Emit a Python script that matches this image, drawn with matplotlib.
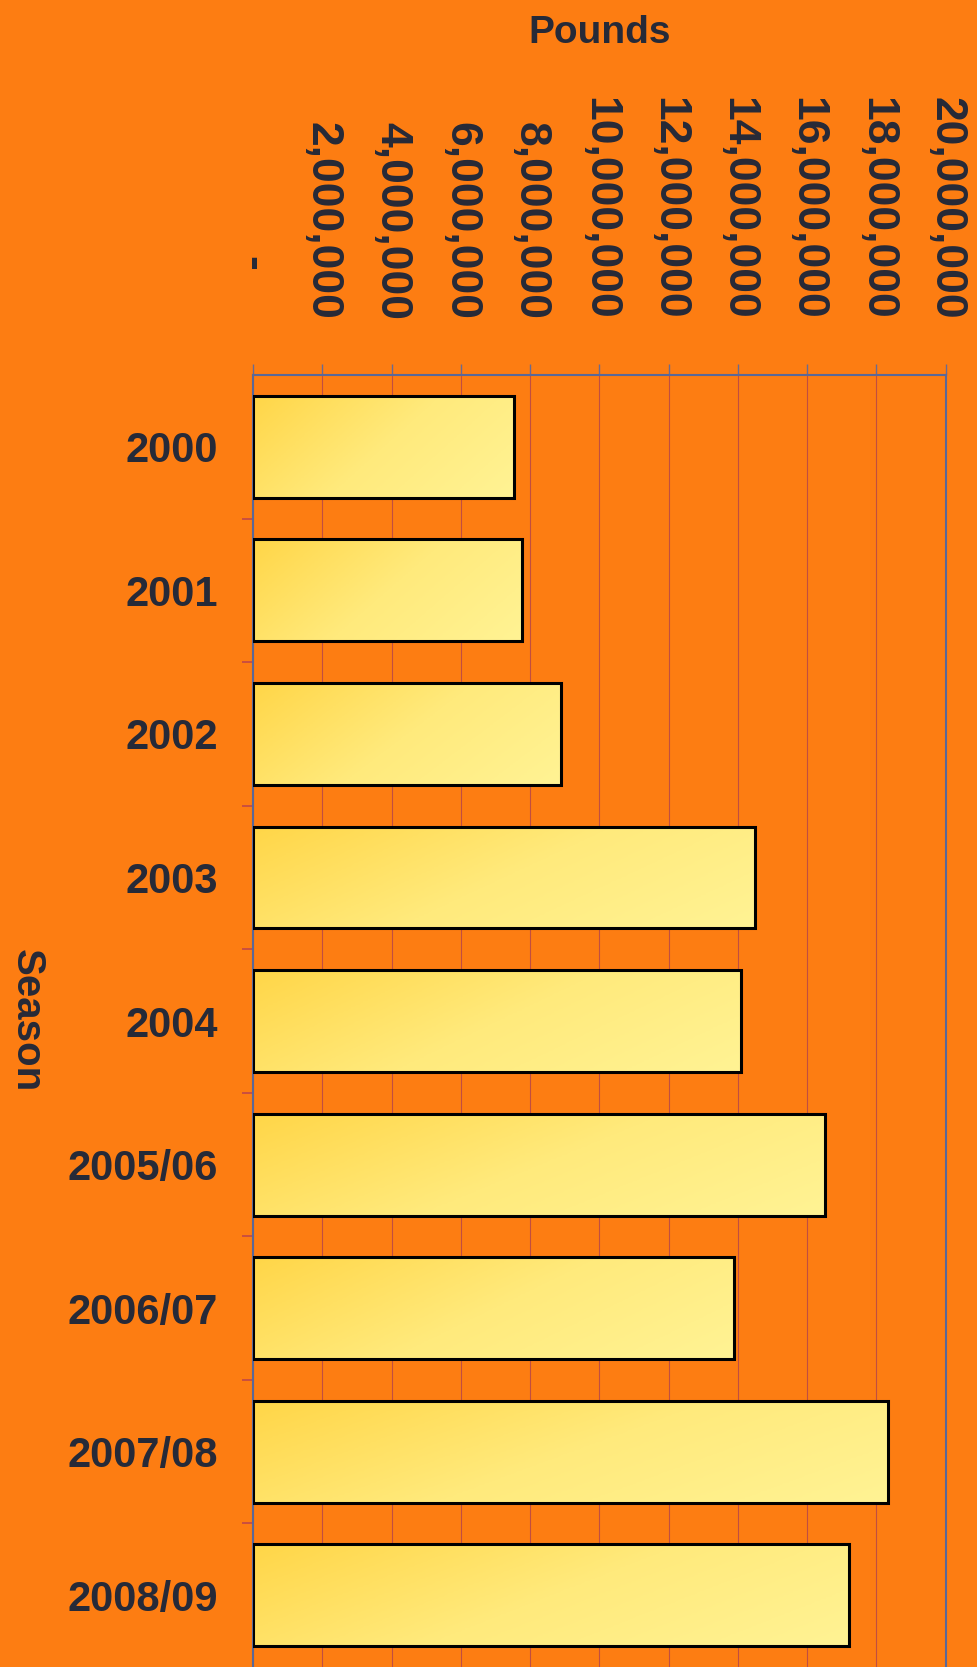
import matplotlib.pyplot as plt
import numpy as np
from matplotlib.ticker import FuncFormatter, MultipleLocator

plt.rcParams['font.family'] = ['Liberation Sans', 'DejaVu Sans']

seasons = ["2000", "2001", "2002", "2003", "2004", "2005/06", "2006/07", "2007/08", "2008/09"]
pounds = [7530000, 7770000, 8880000, 14500000, 14100000, 16500000, 13900000, 18320000, 17220000]

BG = "#fd7d12"
TXT = "#262a38"

fig = plt.figure(figsize=(9.77, 16.67), dpi=100, facecolor=BG)
ax = fig.add_axes([0.259, 0.0, 0.709, 0.775], facecolor=BG)

ypos = np.arange(len(seasons))
bars = ax.barh(ypos, pounds, height=0.71, color="none", edgecolor="black", linewidth=2.2, zorder=3)

# gold-to-pale-yellow gradient inside each bar
gx, gy = np.meshgrid(np.linspace(0, 1, 200), np.linspace(0, 1, 50))
grad = 0.7 * gx + 0.3 * gy
cmap = plt.matplotlib.colors.LinearSegmentedColormap.from_list("g", ["#ffd648", "#ffea7c", "#fff394"])
for b in bars:
    x0, y0, w, h = b.get_x(), b.get_y(), b.get_width(), b.get_height()
    im = ax.imshow(grad, cmap=cmap, extent=[x0, x0 + w, y0 + h, y0], aspect="auto", zorder=2)
    im.set_clip_path(b)

ax.set_xlim(0, 20000000)
ax.set_ylim(len(seasons) - 0.5, -0.5)
ax.xaxis.set_major_locator(MultipleLocator(2000000))
ax.xaxis.set_major_formatter(FuncFormatter(lambda v, p: "-    " if v == 0 else f"{v:,.0f}"))
ax.xaxis.tick_top()
ax.xaxis.set_label_position("top")
ax.tick_params(axis="x", which="major", direction="out", length=8, width=1, color="#6a6a90",
               pad=32, labelsize=32, labelcolor=TXT, labelrotation=270)
for lab in ax.get_xticklabels():
    lab.set_fontweight("bold")
    lab.set_va("bottom")

ax.set_yticks(ypos)
ax.set_yticklabels(seasons, fontsize=30, fontweight="bold", color=TXT)
ax.set_yticks(ypos[:-1] + 0.5, minor=True)
ax.tick_params(axis="y", which="major", length=0, pad=25)
ax.tick_params(axis="y", which="minor", length=8, width=1.2, color="#c04848", direction="out")

ax.grid(axis="x", color="#9a3060", linewidth=0.8, alpha=0.6, zorder=1)
ax.set_axisbelow(True)

for s in ["top", "left", "right"]:
    ax.spines[s].set_color("#5a6898")
    ax.spines[s].set_linewidth(1.5)
ax.spines["bottom"].set_visible(False)

ax.set_xlabel("Pounds", fontsize=28, fontweight="bold", color=TXT)
ax.xaxis.set_label_coords(0.5, 1.257)
ax.set_ylabel("Season", fontsize=29, fontweight="bold", color=TXT, rotation=270, va="center")
ax.yaxis.set_label_coords(-0.326, 0.5)

fig.savefig("out.png", dpi=100, facecolor=BG)
